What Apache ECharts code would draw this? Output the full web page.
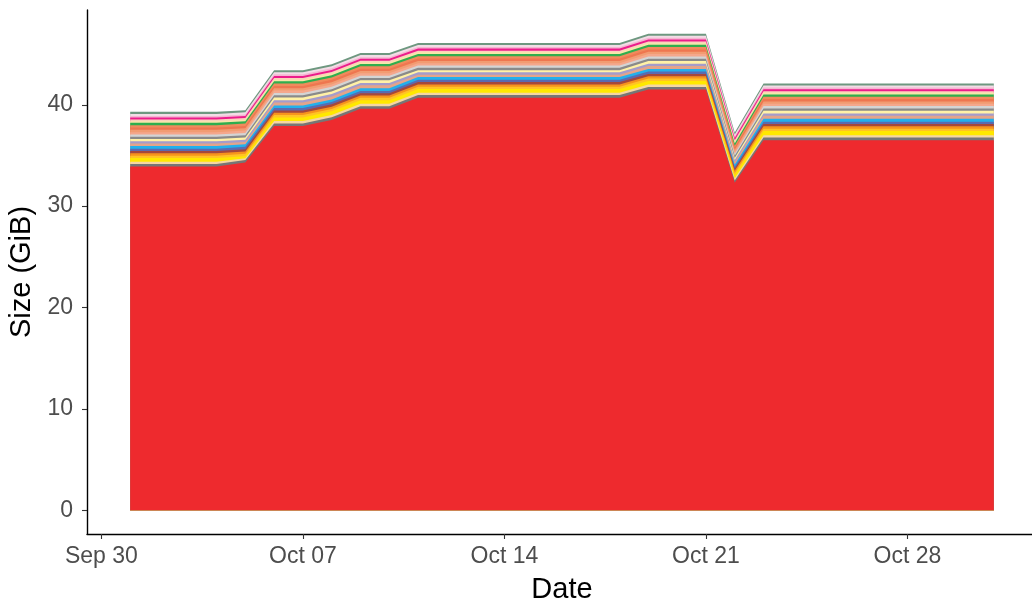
<!DOCTYPE html>
<html>
<head>
<meta charset="utf-8">
<script src="https://cdn.jsdelivr.net/npm/echarts@6/dist/echarts.min.js"></script>
<style>
html,body{margin:0;padding:0;background:#fff;}
#chart{width:1032px;height:603px;}
</style>
</head>
<body>
<div id="chart"></div>
<script>
// Day of October (Sep 30 = 0)
const days = [1,2,3,4,5,6,7,8,9,10,11,12,13,14,15,16,17,18,19,20,21,22,23,24,25,26,27,28,29,30,31];
const xTickValues = [0,7,14,21,28];
const xTickLabels = ['Sep 30','Oct 07','Oct 14','Oct 21','Oct 28'];
const yTickValues = [0,10,20,30,40];

// series values (GiB), bottom to top
const sRed = [
 33.9,33.9,33.9,33.9,34.3,37.9,37.9,38.5,39.6,39.6,
 40.7,40.7,40.7,40.7,40.7,40.7,40.7,40.7,41.5,41.5,
 41.5,32.3,36.5,36.5,36.5,36.5,36.5,36.5,36.5,36.5,36.5];
const sGrayLow = [
 .26,.26,.26,.26,.26,.26,.26,.26,.26,.26,
 .26,.26,.26,.26,.26,.26,.26,.26,.26,.26,
 .26,.22,.26,.26,.26,.26,.26,.26,.26,.26,.26];
const sWheat = [
 .23,.23,.23,.23,.17,.23,.23,.23,.23,.23,
 .23,.23,.23,.23,.23,.23,.23,.23,.23,.23,
 .23,.23,.23,.23,.23,.23,.23,.23,.23,.23,.23];
const sYellow = [
 .36,.36,.36,.36,.20,.36,.36,.36,.36,.36,
 .36,.36,.36,.36,.36,.36,.36,.36,.36,.36,
 .36,.30,.42,.42,.42,.42,.42,.42,.42,.42,.42];
const sGold = [
 .23,.23,.23,.23,.23,.23,.23,.23,.23,.23,
 .23,.23,.23,.23,.23,.23,.23,.23,.23,.23,
 .23,.23,.23,.23,.23,.23,.23,.23,.23,.23,.23];
const sOrange = [
 .23,.23,.23,.23,.23,.23,.23,.23,.23,.23,
 .23,.23,.23,.23,.23,.23,.23,.23,.23,.23,
 .23,.20,.23,.23,.23,.23,.23,.23,.23,.23,.23];
const sSienna = [
 .23,.23,.23,.23,.23,.23,.23,.23,.23,.23,
 .23,.23,.23,.23,.23,.23,.23,.23,.23,.23,
 .23,.20,.23,.23,.23,.23,.23,.23,.23,.23,.23];
const sSlate = [
 .23,.23,.23,.23,.23,.23,.23,.23,.23,.23,
 .23,.23,.23,.23,.23,.23,.23,.23,.23,.23,
 .23,.20,.23,.23,.23,.23,.23,.23,.23,.23,.23];
const sSky = [
 .26,.26,.26,.26,.26,.26,.26,.26,.26,.26,
 .26,.26,.26,.26,.26,.26,.26,.26,.26,.26,
 .26,.22,.30,.30,.30,.30,.30,.30,.30,.30,.30];
const sTan = [
 .24,.24,.24,.24,.21,.29,.29,.29,.29,.29,
 .24,.24,.24,.24,.24,.24,.24,.24,.29,.29,
 .29,.24,.29,.29,.29,.29,.29,.29,.29,.29,.29];
const sLavender = [
 .23,.23,.23,.23,.23,.23,.23,.23,.23,.23,
 .23,.23,.23,.23,.23,.23,.23,.23,.23,.23,
 .23,.20,.23,.23,.23,.23,.23,.23,.23,.23,.23];
const sLightYellow = [
 .21,.21,.21,.21,.21,.26,.26,.26,.26,.26,
 .21,.21,.21,.21,.21,.21,.21,.21,.26,.26,
 .26,.22,.26,.26,.26,.26,.26,.26,.26,.26,.26];
const sGrayMid = [
 .23,.23,.23,.23,.23,.23,.23,.23,.23,.23,
 .23,.23,.23,.23,.23,.23,.23,.23,.23,.23,
 .23,.20,.23,.23,.23,.23,.23,.23,.23,.23,.23];
const sLightGray = [
 .23,.23,.23,.23,.23,.23,.23,.23,.23,.23,
 .23,.23,.23,.23,.23,.23,.23,.23,.23,.23,
 .23,.20,.23,.23,.23,.23,.23,.23,.23,.23,.23];
const sSalmon = [
 .23,.23,.23,.23,.23,.23,.23,.23,.23,.23,
 .23,.23,.23,.23,.23,.23,.23,.23,.23,.23,
 .23,.20,.23,.23,.23,.23,.23,.23,.23,.23,.23];
const sLightOrange = [
 .23,.23,.23,.23,.23,.23,.23,.23,.23,.23,
 .23,.23,.23,.23,.23,.23,.23,.23,.23,.23,
 .23,.20,.23,.23,.23,.23,.23,.23,.23,.23,.23];
const sCoral = [
 .23,.23,.23,.23,.23,.23,.23,.23,.23,.23,
 .23,.23,.23,.23,.23,.23,.23,.23,.23,.23,
 .23,.20,.23,.23,.23,.23,.23,.23,.23,.23,.23];
const sSalmonOrange = [
 .23,.23,.23,.23,.23,.23,.23,.23,.23,.23,
 .23,.23,.23,.23,.23,.23,.23,.23,.23,.23,
 .23,.20,.23,.23,.23,.23,.23,.23,.23,.23,.23];
const sGreen = [
 .23,.23,.23,.23,.23,.23,.23,.23,.23,.23,
 .23,.23,.23,.23,.23,.23,.23,.23,.23,.23,
 .23,.23,.23,.23,.23,.23,.23,.23,.23,.23,.23];
const sBeige = [
 .16,.16,.16,.16,.16,.16,.16,.16,.16,.16,
 .16,.16,.16,.16,.16,.16,.16,.16,.16,.16,
 .16,.16,.16,.16,.16,.16,.16,.16,.16,.16,.16];
const sPeach = [
 .16,.16,.16,.16,.16,.16,.16,.16,.16,.16,
 .16,.16,.16,.16,.16,.16,.16,.16,.16,.16,
 .16,.16,.16,.16,.16,.16,.16,.16,.16,.16,.16];
const sMagenta = [
 .20,.20,.20,.20,.20,.20,.20,.20,.20,.20,
 .20,.20,.20,.20,.20,.20,.20,.20,.20,.20,
 .20,.20,.20,.20,.20,.20,.20,.20,.20,.20,.20];
const sLightPink = [
 .16,.16,.16,.16,.16,.16,.16,.16,.16,.16,
 .16,.16,.16,.16,.16,.16,.16,.16,.16,.16,
 .16,.16,.16,.16,.16,.16,.16,.16,.16,.16,.16];
const sPaleRose = [
 .20,.20,.20,.20,.20,.20,.20,.20,.20,.20,
 .20,.20,.20,.20,.20,.20,.20,.20,.20,.20,
 .20,.20,.20,.20,.20,.20,.20,.20,.20,.20,.20];
const sGrayGreen = [
 .20,.20,.20,.20,.20,.20,.20,.20,.20,.20,
 .20,.20,.20,.20,.20,.20,.20,.20,.20,.20,
 .20,.20,.20,.20,.20,.20,.20,.20,.20,.20,.20];

const layers = [
 [sRed,'#EE2A2E'],
 [sGrayLow,'#767676'],
 [sWheat,'#F5D6A2'],
 [sYellow,'#FFE800'],
 [sGold,'#FFC425'],
 [sOrange,'#F7941D'],
 [sSienna,'#A5483C'],
 [sSlate,'#5A6BB0'],
 [sSky,'#22B0EC'],
 [sTan,'#E3A48A'],
 [sLavender,'#A59CCB'],
 [sLightYellow,'#FFF1A6'],
 [sGrayMid,'#8A8A8A'],
 [sLightGray,'#D4D4D4'],
 [sSalmon,'#F5A78C'],
 [sLightOrange,'#F29C72'],
 [sCoral,'#EF7650'],
 [sSalmonOrange,'#F08B5C'],
 [sGreen,'#2FAE4E'],
 [sBeige,'#F7E6A9'],
 [sPeach,'#FAD3BA'],
 [sMagenta,'#EC1C8B'],
 [sLightPink,'#F5B6D2'],
 [sPaleRose,'#F2DDE6'],
 [sGrayGreen,'#6E9880']
];

// Build stacked (cumulative) tops; each area is filled down to 0, upper layers drawn first
const running = days.map(function(){ return 0; });
const stacked = layers.map(function(l){
  const tops = days.map(function(d, k){ running[k] += l[0][k]; return [d, +running[k].toFixed(4)]; });
  return { tops: tops, color: l[1] };
});
const series = stacked.slice().reverse().map(function(s){
  return {
    type: 'line',
    data: s.tops,
    showSymbol: false,
    symbol: 'none',
    smooth: false,
    lineStyle: { width: 0 },
    areaStyle: { color: s.color, opacity: 1, origin: 'auto' },
    itemStyle: { color: s.color },
    silent: true
  };
});

const chart = echarts.init(document.getElementById('chart'), null, {renderer:'canvas'});
chart.setOption({
  animation: false,
  backgroundColor: '#ffffff',
  grid: { left: 87, top: 10, width: 950, height: 524, containLabel: false, outerBoundsMode: 'none' },
  xAxis: {
    type: 'value',
    min: -0.5, max: 32.5,
    name: 'Date',
    nameLocation: 'middle',
    nameGap: 41,
    nameTextStyle: { color: '#000', fontSize: 29, fontFamily: 'Liberation Sans, Arial, sans-serif' },
    axisLine: { show: true, onZero: false, lineStyle: { color: '#000', width: 1.4 } },
    axisTick: { show: true, length: 5, customValues: xTickValues, lineStyle: { color: '#333', width: 1.1 } },
    axisLabel: {
      customValues: xTickValues,
      margin: 11,
      color: '#4D4D4D', fontSize: 23, fontFamily: 'Liberation Sans, Arial, sans-serif',
      formatter: function(v){ const i = xTickValues.indexOf(v); return i >= 0 ? xTickLabels[i] : ''; }
    },
    splitLine: { show: false }
  },
  yAxis: {
    type: 'value',
    min: -2.35, max: 49.35,
    name: 'Size (GiB)',
    nameLocation: 'middle',
    nameGap: 34,
    nameRotate: 90,
    nameTextStyle: { color: '#000', fontSize: 29, fontFamily: 'Liberation Sans, Arial, sans-serif' },
    axisLine: { show: true, onZero: false, lineStyle: { color: '#000', width: 1.4 } },
    axisTick: { show: true, length: 5, customValues: yTickValues, lineStyle: { color: '#333', width: 1.1 } },
    axisLabel: {
      customValues: yTickValues,
      margin: 14,
      color: '#4D4D4D', fontSize: 23, fontFamily: 'Liberation Sans, Arial, sans-serif'
    },
    splitLine: { show: false }
  },
  series: series
});
</script>
</body>
</html>
